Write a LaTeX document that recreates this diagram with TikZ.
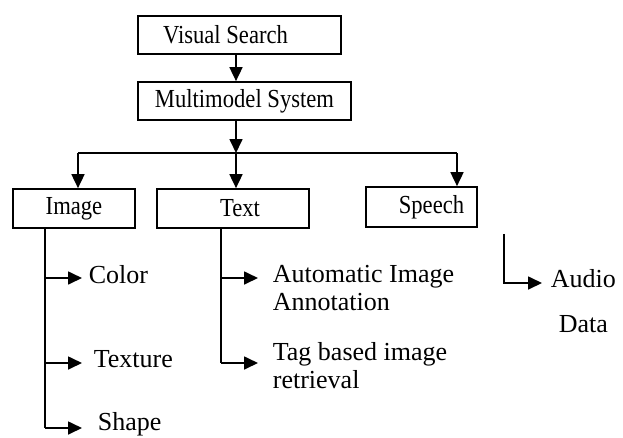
\documentclass[tikz,border=0pt]{standalone}
\usepackage{fontspec}
\setmainfont{Liberation Serif}
\newfontfamily\boxfont[FakeStretch=0.87]{Liberation Serif}
\usetikzlibrary{arrows.meta}

\begin{document}
\begin{tikzpicture}[x=1pt,y=-1pt,line width=1.7pt,
    arr/.style={-{Triangle[length=14pt,width=13pt]}},
    box/.style={draw,rectangle,inner sep=0pt,font=\boxfont\fontsize{26}{28}\selectfont},
    lbl/.style={inner sep=0pt,anchor=base west,align=left,font=\fontsize{26}{28}\selectfont}]

      \useasboundingbox (0,0) rectangle (623,437);

      \begin{scope}[every node/.style={box}]
        \node (vs)  at (239.5,35)  [minimum width=203pt,minimum height=38pt] {Visual Search\hspace*{28pt}};
        \node (mm)  at (244.5,101) [minimum width=213pt,minimum height=38pt] {Multimodel System};
        \node (img) at (74,208.5)  [minimum width=122pt,minimum height=39pt] {Image};
        \node (txt) at (233,208.5) [minimum width=152pt,minimum height=39pt] {\hspace*{14pt}Text};
        \node (sp)  at (421.5,207) [minimum width=111pt,minimum height=40pt] {\hspace*{20pt}Speech};
      \end{scope}

      % labels sit on the baseline of their last line
      \begin{scope}[every node/.style={lbl}]
        \node (col) at (88,283)  {Color};
        \node (tex) at (93,367)  {Texture};
        \node (shp) at (97,430)  {Shape};
        \node (aia) at (272,310) {Automatic Image\\Annotation};
        \node (tbr) at (272,388) {Tag based image\\retrieval};
        \node (aud) at (550,332) [align=center] {Audio\\[17pt]Data};
      \end{scope}

      % branch points
      \coordinate (split) at (236,153);
      \coordinate (left)  at (78,153);
      \coordinate (right) at (457,153);
      \coordinate (iv) at (45,0);
      \coordinate (tv) at (221,0);
      \coordinate (sv) at (504,0);

      \draw[arr] (vs.south -| split) -- (mm.north -| split);
      \draw[arr] (mm.south -| split) -- (split);
      \draw (left) -- (right);
      \draw[arr] (left) -- (left |- img.north);
      \draw[arr] (split) -- (split |- txt.north);
      \draw[arr] (right) -- (right |- sp.north);

      % image features
      \draw (img.south -| iv) -- (iv |- 0,428);
      \draw[arr] (iv |- 0,278) -- (82,278);
      \draw[arr] (iv |- 0,363) -- (82,363);
      \draw[arr] (iv |- 0,428) -- (82,428);

      % text features
      \draw (txt.south -| tv) -- (tv |- 0,363);
      \draw[arr] (tv |- 0,278) -- (258,278);
      \draw[arr] (tv |- 0,363) -- (258,363);

      % speech
      \draw[arr] ([yshift=-6pt]sp.south -| sv) |- (542,283);

    \end{tikzpicture}
\end{document}
